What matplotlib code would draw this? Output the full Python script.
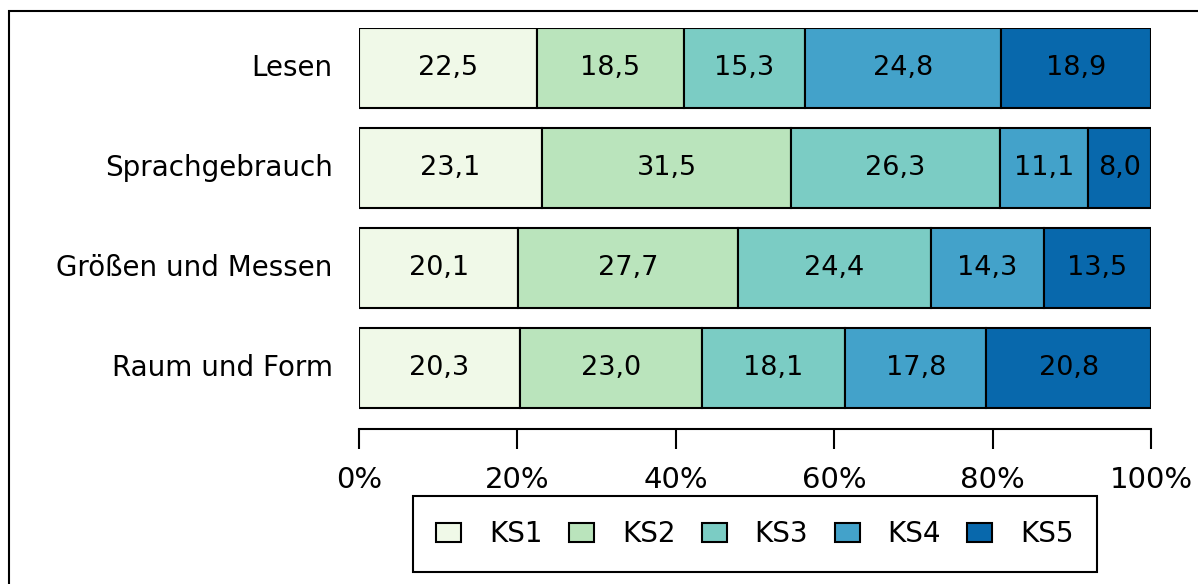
import numpy as np
import matplotlib.pyplot as plt
from matplotlib.patches import Rectangle

# Daten
kategorien = ["Lesen", "Sprachgebrauch", "Größen und Messen", "Raum und Form"]
stufen = ["KS1", "KS2", "KS3", "KS4", "KS5"]
ks1 = [22.5, 23.1, 20.1, 20.3]
ks2 = [18.5, 31.5, 27.7, 23.0]
ks3 = [15.3, 26.3, 24.4, 18.1]
ks4 = [24.8, 11.1, 14.3, 17.8]
ks5 = [18.9, 8.0, 13.5, 20.8]
farben = ["#F0F9E8", "#BAE4BC", "#7BCCC4", "#43A2CA", "#0868AC"]

werte = np.array([ks1, ks2, ks3, ks4, ks5])
plt.rcParams['font.family'] = ['DejaVu Sans']
fs = 19.5

fig = plt.figure(figsize=(11.98, 5.84), dpi=100)
ax = fig.add_axes([359/1198, 1 - 429/584, 792/1198, 401/584])

y = np.arange(len(kategorien))[::-1]
links = np.zeros(len(kategorien))
for i, name in enumerate(stufen):
    bars = ax.barh(y, werte[i], left=links, height=0.8, color=farben[i],
                   edgecolor='black', linewidth=1.5, label=name)
    for b, v in zip(bars, werte[i]):
        ax.text(b.get_x() + b.get_width() / 2, b.get_y() + b.get_height() / 2,
                f"{v:.1f}".replace('.', ','), ha='center', va='center',
                fontsize=fs, color='black')
    links += werte[i]

ax.set_xlim(0, 100)
ax.set_ylim(-0.61, 3.4)
ax.set_yticks(y)
ax.set_yticklabels(kategorien, fontsize=20, va='center')
ax.tick_params(axis='y', length=0, pad=19)
ax.set_xticks(np.arange(0, 101, 20))
ax.set_xticklabels([f"{t}%" for t in range(0, 101, 20)], fontsize=21)
ax.tick_params(axis='x', direction='out', length=14.4, width=1.5, pad=12)
for s in ['left', 'top', 'right']:
    ax.spines[s].set_visible(False)
ax.spines['bottom'].set_linewidth(1.5)

leg = fig.legend(loc='center', bbox_to_anchor=(755/1198, 1 - 534/584), ncol=5,
                 fontsize=20, frameon=True, fancybox=False, edgecolor='black',
                 framealpha=1, handlelength=0.9, handleheight=0.65,
                 handletextpad=1.0, columnspacing=0.95, borderpad=0.85)
leg.get_frame().set_linewidth(1.5)

# Rahmen um die Grafik
fig.patches.append(Rectangle((9/1198, -0.2), 1.5, 1.2 - 11/584, transform=fig.transFigure,
                             fill=False, edgecolor='black', linewidth=1.5))

fig.savefig("out.png", dpi=100)
